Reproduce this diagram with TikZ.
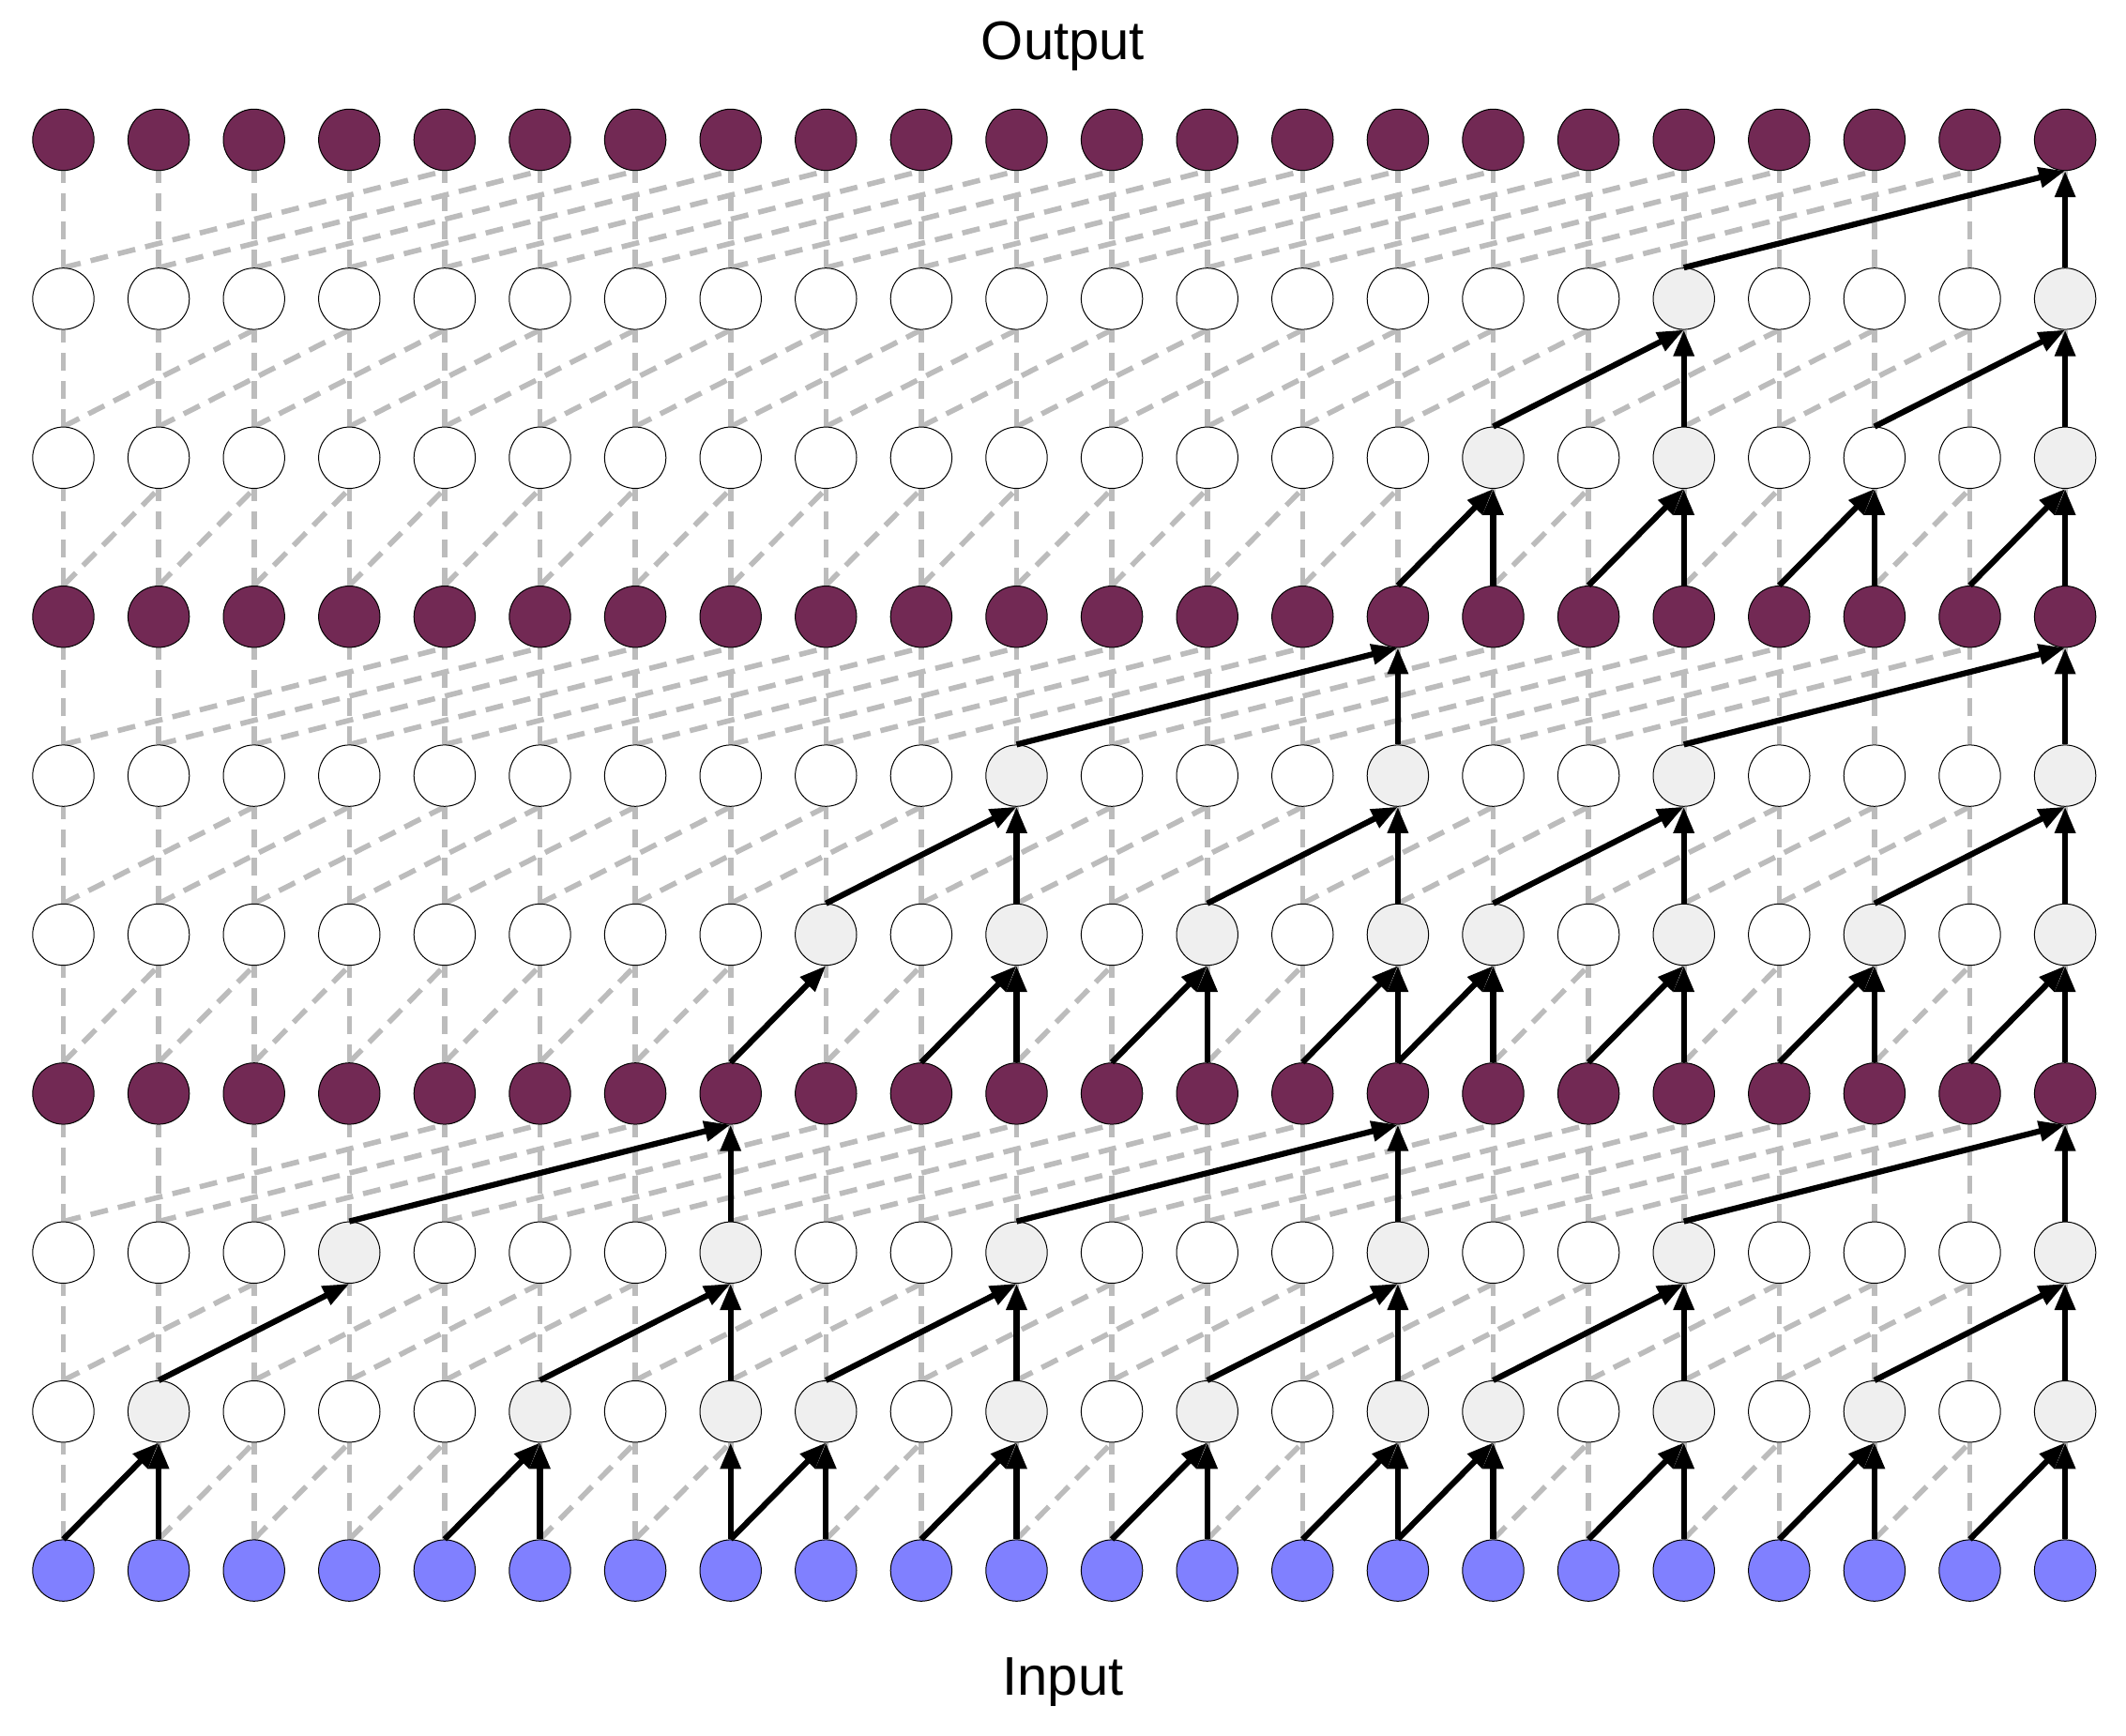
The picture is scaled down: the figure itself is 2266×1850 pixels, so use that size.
\documentclass[tikz,border=0pt]{standalone}
\usepackage{fontspec}
\setmainfont{Liberation Sans}
\usetikzlibrary{arrows.meta}
\definecolor{outpur}{RGB}{114,41,84}
\definecolor{inblue}{RGB}{128,128,255}
\definecolor{hidgrey}{RGB}{239,239,239}
\definecolor{dashgrey}{RGB}{188,188,188}
\pgfdeclarelayer{bg}
\pgfsetlayers{bg,main}
\makeatletter
\@namedef{greyrow1}{,1,5,7,8,10,12,14,15,17,19,21,}
\@namedef{greyrow2}{,3,7,10,14,17,21,}
\@namedef{greyrow4}{,8,10,12,14,15,17,19,21,}
\@namedef{greyrow5}{,10,14,17,21,}
\@namedef{greyrow7}{,15,17,21,}
\@namedef{greyrow8}{,17,21,}
\newcommand\setcellfill[2]{%
  \def\cfill{white}%
  \ifcase#1\relax \def\cfill{inblue}\or\or\or\def\cfill{outpur}\or\or\or\def\cfill{outpur}\or\or\or\def\cfill{outpur}\fi
  \edef\cell@tmp{\noexpand\in@{,#2,}{\csname greyrow#1\endcsname}}%
  \cell@tmp
  \ifin@\def\cfill{hidgrey}\fi}
\makeatother
\tikzset{
  cell/.style={circle, draw=black, line width=0.5pt, minimum size=32.7pt, inner sep=0pt},
  dashedge/.style={draw=dashgrey, line width=2.8pt, dash pattern=on 9.5pt off 5.5pt},
  arr/.style={draw=black, line width=3.1pt, -{Triangle[length=14pt,width=10.5pt]}},
  lbl/.style={anchor=base, font=\fontsize{29}{34}\selectfont, text=black}
}
\begin{document}
\begin{tikzpicture}[x=0.5pt, y=-0.5pt]
\useasboundingbox (0,0) rectangle (2266,1850);
% nodes
\foreach \r in {0,...,9} {
  \foreach \c in {0,...,21} {
    \setcellfill{\r}{\c}
    \node[cell, fill=\cfill] (n-\r-\c) at ({67.5+101.6*\c},{1673.6-169.4*\r}) {};
  }
}
% dashed background connections
\begin{pgfonlayer}{bg}
\foreach \r in {1,...,9} {
  \pgfmathtruncatemacro\d{2^(mod(\r-1,3))}
  \pgfmathtruncatemacro\p{\r-1}
  \foreach \c in {0,...,21} {
    \draw[dashedge] (n-\p-\c.north) -- (n-\r-\c.south);
    \pgfmathtruncatemacro\s{\c-\d}
    \ifnum\s>-1 \draw[dashedge] (n-\p-\s.north) -- (n-\r-\c.south); \fi
  }
}
\end{pgfonlayer}
% solid arrows: target row / source col / target col
\foreach \r/\s/\t in {
  1/0/1, 1/1/1, 1/4/5, 1/5/5, 1/7/7, 1/7/8, 1/8/8, 1/9/10, 1/10/10, 1/11/12, 1/12/12,
  1/13/14, 1/14/14, 1/14/15, 1/15/15, 1/16/17, 1/17/17, 1/18/19, 1/19/19, 1/20/21, 1/21/21,
  2/1/3, 2/5/7, 2/7/7, 2/8/10, 2/10/10, 2/12/14, 2/14/14, 2/15/17, 2/17/17, 2/19/21, 2/21/21,
  3/3/7, 3/7/7, 3/10/14, 3/14/14, 3/17/21, 3/21/21,
  4/7/8, 4/9/10, 4/10/10, 4/11/12, 4/12/12, 4/13/14, 4/14/14, 4/14/15, 4/15/15,
  4/16/17, 4/17/17, 4/18/19, 4/19/19, 4/20/21, 4/21/21,
  5/8/10, 5/10/10, 5/12/14, 5/14/14, 5/15/17, 5/17/17, 5/19/21, 5/21/21,
  6/10/14, 6/14/14, 6/17/21, 6/21/21,
  7/14/15, 7/15/15, 7/16/17, 7/17/17, 7/18/19, 7/19/19, 7/20/21, 7/21/21,
  8/15/17, 8/17/17, 8/19/21, 8/21/21,
  9/17/21, 9/21/21} {
  \pgfmathtruncatemacro\p{\r-1}
  \draw[arr] (n-\p-\s.north) -- (n-\r-\t.south);
}
% labels
\node[lbl] (outlbl) at (1133,64) {Output};
\node[lbl] (inlbl) at (1133,1806) {Input};
\end{tikzpicture}
\end{document}
